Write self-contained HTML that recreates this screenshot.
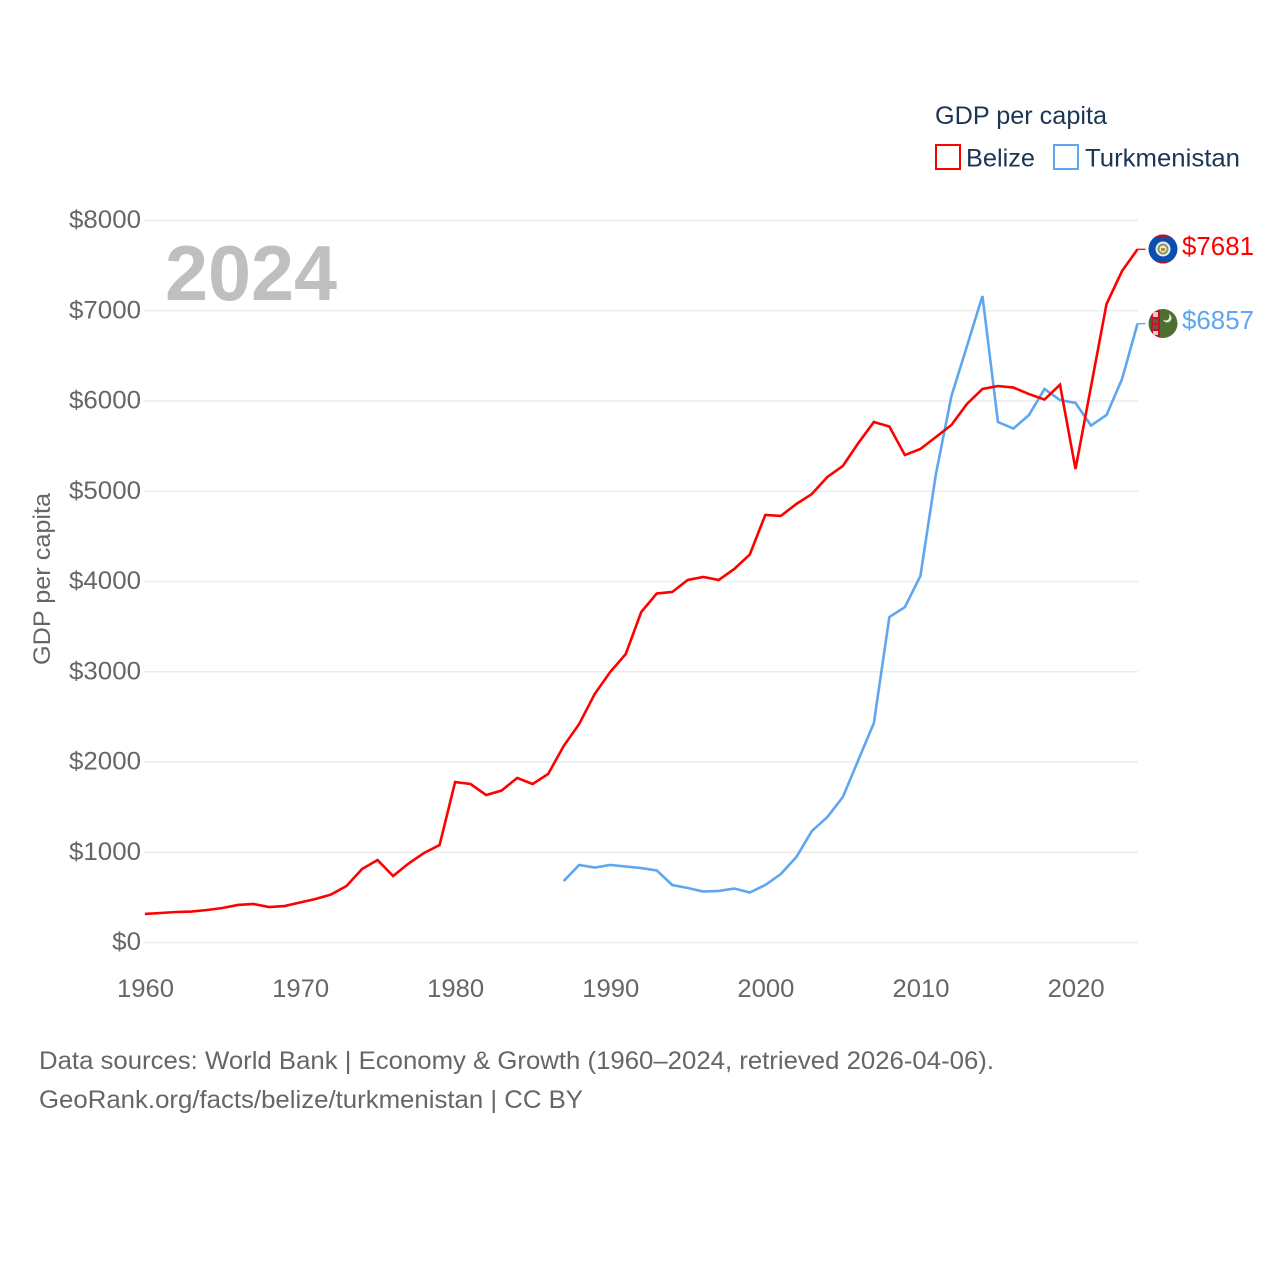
<!DOCTYPE html>
<html lang="en">
<head>
<meta charset="utf-8">
<title>GDP per capita: Belize vs Turkmenistan</title>
<style>
html,body{margin:0;padding:0;background:#fff;width:1280px;height:1280px;overflow:hidden}
svg{display:block}
text{font-family:"Liberation Sans",sans-serif}
</style>
</head>
<body>
<svg id="chart" width="1280" height="1280" viewBox="0 0 1280 1280" xmlns="http://www.w3.org/2000/svg">
  <defs>
    <clipPath id="flag-clip-a"><circle cx="1163" cy="249" r="14.5"/></clipPath>
    <clipPath id="flag-clip-b"><circle cx="1163" cy="323.5" r="14.5"/></clipPath>
  </defs>
  <g id="grid"></g>
  <g id="yticks"></g>
  <g id="xticks"></g>
  <text x="165" y="300" font-size="78" font-weight="700" fill="#bfbfbf" textLength="172" lengthAdjust="spacingAndGlyphs">2024</text>
  <text transform="translate(50,579) rotate(-90)" text-anchor="middle" font-size="24" fill="#666666" textLength="172" lengthAdjust="spacingAndGlyphs">GDP per capita</text>
  <g id="series"></g>

  <g>
    <text x="935" y="124" font-size="25" fill="#1b3555" textLength="172" lengthAdjust="spacingAndGlyphs">GDP per capita</text>
    <rect x="936" y="145" width="24" height="24" fill="#fff" stroke="#ff0000" stroke-width="2"/>
    <text x="966" y="166.5" font-size="25" fill="#1b3555" textLength="69" lengthAdjust="spacingAndGlyphs">Belize</text>
    <rect x="1054" y="145" width="24" height="24" fill="#fff" stroke="#5ea6ee" stroke-width="2"/>
    <text x="1085" y="166.5" font-size="25" fill="#1b3555" textLength="155" lengthAdjust="spacingAndGlyphs">Turkmenistan</text>
  </g>

  <g clip-path="url(#flag-clip-a)">
    <rect x="1148" y="234" width="30" height="30" fill="#0a4fb0"/>
    <rect x="1148" y="234" width="30" height="3" fill="#b5122e"/>
    <rect x="1148" y="261" width="30" height="3" fill="#b5122e"/>
    <circle cx="1163" cy="249" r="7.5" fill="#e9efe6"/>
    <circle cx="1163" cy="249" r="5.5" fill="#7f9f6a"/>
    <circle cx="1163" cy="249" r="3.5" fill="#f1ead8"/>
    <rect x="1161" y="248" width="4" height="3" fill="#d9803c"/>
  </g>
  <g clip-path="url(#flag-clip-b)">
    <rect x="1148" y="309" width="30" height="30" fill="#4e6f30"/>
    <rect x="1151" y="309" width="9" height="30" fill="#c8102e"/>
    <rect x="1153" y="312" width="5" height="5" fill="#e8c9c0"/>
    <rect x="1153" y="319" width="5" height="4" fill="#6e5a3e"/>
    <rect x="1153" y="325" width="5" height="4" fill="#6e5a3e"/>
    <rect x="1153" y="331" width="5" height="4" fill="#e8c9c0"/>
    <circle cx="1167" cy="318" r="4.5" fill="#e8eee0"/>
    <circle cx="1165.5" cy="316.5" r="4" fill="#4e6f30"/>
  </g>
  <text x="1182" y="255" font-size="26" fill="#ff0000" textLength="72" lengthAdjust="spacingAndGlyphs">$7681</text>
  <text x="1182" y="329" font-size="26" fill="#5ea6ee" textLength="72" lengthAdjust="spacingAndGlyphs">$6857</text>

  <text x="39" y="1069" font-size="25" fill="#666666" textLength="955" lengthAdjust="spacingAndGlyphs">Data sources: World Bank | Economy &amp; Growth (1960–2024, retrieved 2026-04-06).</text>
  <text x="39" y="1108" font-size="25" fill="#666666" textLength="544" lengthAdjust="spacingAndGlyphs">GeoRank.org/facts/belize/turkmenistan | CC BY</text>
</svg>
<script>
var yTicks = [0, 1000, 2000, 3000, 4000, 5000, 6000, 7000, 8000];
var xTicks = [1960, 1970, 1980, 1990, 2000, 2010, 2020];
var belizeStart = 1960;
var belizeValues = [316,327,338,343,360,382,416,427,393,404,443,482,532,626,814,914,737,875,992,1080,1778,1756,1634,1684,1823,1756,1867,2177,2421,2753,2997,3196,3662,3867,3884,4017,4050,4017,4139,4299,4737,4726,4859,4969,5158,5280,5534,5767,5717,5401,5468,5601,5734,5967,6133,6166,6149,6077,6016,6180,5246,6160,7074,7440,7681];
var turkmenistanStart = 1987;
var turkmenistanValues = [681,859,831,859,842,825,798,637,604,565,571,598,554,637,759,947,1235,1390,1612,2022,2432,3606,3717,4061,5190,6054,6607,7163,5767,5695,5845,6133,6011,5978,5728,5845,6243,6857];

var NS = 'http://www.w3.org/2000/svg';
function xScale(year) { return 144.9 + (year - 1960) * 15.51; }
function yScale(value) { return 942.5 - value * 0.09025; }

var grid = document.getElementById('grid');
var yGroup = document.getElementById('yticks');
var xGroup = document.getElementById('xticks');
var seriesGroup = document.getElementById('series');

yTicks.forEach(function (t) {
  var line = document.createElementNS(NS, 'line');
  
  
  line.setAttribute('x1', 144);
  line.setAttribute('x2', 1138);
  line.setAttribute('y1', yScale(t));
  line.setAttribute('y2', yScale(t));
  line.setAttribute('stroke', '#ececec');
  line.setAttribute('stroke-width', '1.5');
  grid.appendChild(line);

  var label = document.createElementNS(NS, 'text');
  
  
  var s = '$' + t;
  label.setAttribute('x', 141 - (s.length * 14.4));
  label.setAttribute('y', yScale(t) + 7.5);
  label.setAttribute('font-size', '25');
  label.setAttribute('fill', '#666666');
  label.setAttribute('textLength', s.length * 14.4);
  label.setAttribute('lengthAdjust', 'spacingAndGlyphs');
  label.textContent = s;
  yGroup.appendChild(label);
});

xTicks.forEach(function (t) {
  var label = document.createElementNS(NS, 'text');
  
  
  label.setAttribute('x', xScale(t) - 27.9);
  label.setAttribute('y', 997);
  label.setAttribute('font-size', '25');
  label.setAttribute('fill', '#666666');
  label.setAttribute('textLength', '57');
  label.setAttribute('lengthAdjust', 'spacingAndGlyphs');
  label.textContent = String(t);
  xGroup.appendChild(label);
});

function drawSeries(start, values, color, name) {
  var pts = values.map(function (v, i) { return xScale(start + i) + ',' + yScale(v); });
  var lastX = xScale(start + values.length - 1);
  var lastY = yScale(values[values.length - 1]);
  var line = document.createElementNS(NS, 'polyline');
  
  
  line.setAttribute('points', pts.join(' '));
  line.setAttribute('fill', 'none');
  line.setAttribute('stroke', color);
  line.setAttribute('stroke-width', '2.6');
  line.setAttribute('stroke-linejoin', 'miter');
  seriesGroup.appendChild(line);

  var stub = document.createElementNS(NS, 'line');
  
  
  stub.setAttribute('x1', lastX);
  stub.setAttribute('x2', lastX + 8);
  stub.setAttribute('y1', lastY);
  stub.setAttribute('y2', lastY);
  stub.setAttribute('stroke', color);
  stub.setAttribute('stroke-width', '1.3');
  seriesGroup.appendChild(stub);
}
drawSeries(turkmenistanStart, turkmenistanValues, '#5ea6ee', 'series-line-turkmenistan');
drawSeries(belizeStart, belizeValues, '#ff0000', 'series-line-belize');
</script>
</body>
</html>
